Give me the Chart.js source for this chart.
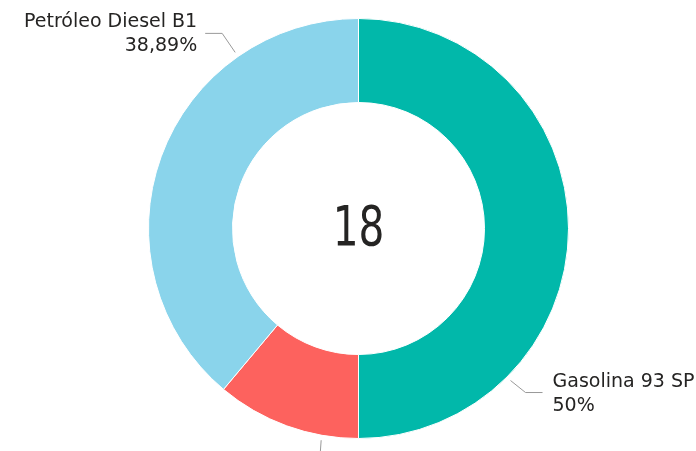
<!DOCTYPE html>
<html lang="es">
<head>
    <meta charset="UTF-8">
    <title>Combustibles</title>
    <script src="https://cdn.jsdelivr.net/npm/chart.js"></script>
    <style>
        body { margin: 0; background: #fff; }
        canvas { display: block; }
    </style>
</head>
<body>
    <canvas id="fuelChart" width="696" height="451"></canvas>

    <script>
        // Data (order = clockwise from 12 o'clock)
        const categories = ["Gasolina 93 SP", "Otros", "Petróleo Diesel B1"];
        const counts = [9, 2, 7];
        const colors = ["#01B8AA", "#FD625E", "#8AD4EB"];
        const showLabelText = [true, false, true]; // third label falls below the picture

        // Where each leader line leaves the ring (degrees clockwise from top)
        const leaderAngles = [135, 190, 325];

        const labelFont = "19px 'DejaVu Sans', sans-serif";
        const centerFont = "55px 'DejaVu Sans Condensed', sans-serif";

        function formatPct(v, total) {
            let s = (v / total * 100).toFixed(2);
            s = s.replace(/\.?0+$/, "");
            return s.replace(".", ",") + "%";
        }

        // Draws the leader lines, the outside labels and the total in the hole
        const labelsPlugin = {
            id: "labelsPlugin",
            afterDraw(chart) {
                const ctx = chart.ctx;
                const meta = chart.getDatasetMeta(0);
                const data = chart.data.datasets[0].data;
                const total = data.reduce((a, b) => a + b, 0);

                ctx.save();
                meta.data.forEach((arc, i) => {
                    const p = arc.getProps(["x", "y", "outerRadius"], true);
                    const a = (leaderAngles[i] - 90) * Math.PI / 180;
                    const r = p.outerRadius + 5;
                    const sx = p.x + r * Math.cos(a);
                    const sy = p.y + r * Math.sin(a);
                    const right = Math.cos(a) > 0.2;
                    const down = Math.abs(Math.cos(a)) <= 0.2;

                    let ex, ey, hx;
                    if (down) {
                        ex = sx - 1; ey = sy + 14; hx = ex;
                    } else {
                        ex = sx + (right ? 15 : -13);
                        ey = sy + (Math.sin(a) > 0 ? 12 : -19);
                        hx = ex + (right ? 17 : -17);
                    }

                    ctx.strokeStyle = "#999999";
                    ctx.lineWidth = 1;
                    ctx.beginPath();
                    ctx.moveTo(sx, sy);
                    ctx.lineTo(ex, ey);
                    ctx.lineTo(hx, ey);
                    ctx.stroke();

                    if (!showLabelText[i]) return;
                    ctx.fillStyle = "#252423";
                    ctx.font = labelFont;
                    ctx.textBaseline = "alphabetic";
                    ctx.textAlign = right ? "left" : "right";
                    const tx = hx + (right ? 10 : -8);
                    ctx.fillText(chart.data.labels[i], tx, ey - 6);
                    ctx.fillText(formatPct(data[i], total), tx, ey + 18);
                });

                // total in the middle, squeezed a bit to look like a condensed face
                const c = meta.data[0];
                ctx.fillStyle = "#252423";
                ctx.font = centerFont;
                ctx.textAlign = "center";
                ctx.textBaseline = "alphabetic";
                ctx.translate(c.x, 245);
                ctx.scale(0.82, 1);
                ctx.fillText(String(total), 0, 0);
                ctx.restore();
            }
        };

        new Chart(document.getElementById("fuelChart"), {
            type: "doughnut",
            data: {
                labels: categories,
                datasets: [{
                    data: counts,
                    backgroundColor: colors,
                    borderColor: "#ffffff",
                    borderWidth: 1
                }]
            },
            options: {
                responsive: false,
                animation: false,
                cutout: "60%",
                layout: {
                    padding: { left: 148, right: 127, top: 17, bottom: 11 }
                },
                plugins: {
                    legend: { display: false },
                    tooltip: { enabled: false }
                }
            },
            plugins: [labelsPlugin]
        });
    </script>
</body>
</html>
